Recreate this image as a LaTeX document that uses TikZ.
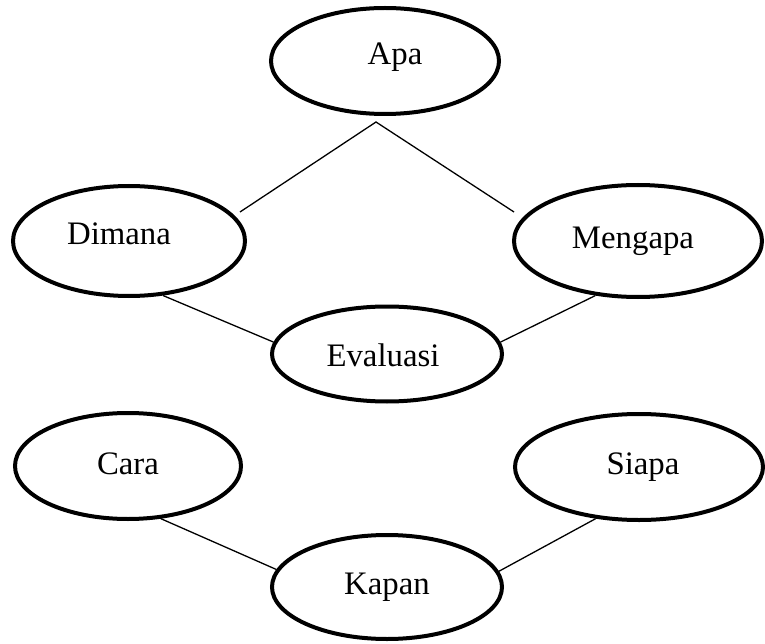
\documentclass[tikz,border=0pt]{standalone}
\usepackage{fontspec}
\setmainfont{Liberation Serif}
\usetikzlibrary{shapes.geometric}
\begin{document}
\begin{tikzpicture}[x=1pt,y=-1pt,
  bubble/.style={ellipse,draw=black,line width=4pt,inner sep=0pt,fill=white},
  word/.style={anchor=base,inner sep=0pt,font=\fontsize{32.8}{38}\selectfont},
  link/.style={draw=black,line width=1.3pt}]
\useasboundingbox (0,0) rectangle (765,644);

% ellipses
\node[bubble,minimum width=228,minimum height=106] (apa) at (385,61) {};
\node[bubble,minimum width=232,minimum height=110] (dimana) at (129,241) {};
\node[bubble,minimum width=248,minimum height=112] (mengapa) at (638,241) {};
\node[bubble,minimum width=230,minimum height=95] (evaluasi) at (387,354) {};
\node[bubble,minimum width=226,minimum height=106] (cara) at (128,466) {};
\node[bubble,minimum width=248,minimum height=106] (siapa) at (639,467) {};
\node[bubble,minimum width=230,minimum height=104] (kapan) at (387,587) {};

% labels
\node[word] (tapa) at (395,65) {Apa};
\node[word] (tdimana) at (119,245) {Dimana};
\node[word] (tmengapa) at (633,249) {Mengapa};
\node[word] (tevaluasi) at (383,366) {Evaluasi};
\node[word] (tcara) at (128,474) {Cara};
\node[word] (tsiapa) at (643,474) {Siapa};
\node[word] (tkapan) at (387,594) {Kapan};

% free ends of the branch under Apa
\coordinate (apex) at (376,122);
\coordinate (armL) at (240,212);
\coordinate (armR) at (514,212);

% connectors
\draw[link] (armL) -- (apex) -- (armR);
\draw[link] (dimana.-58.6) -- (evaluasi.174);
\draw[link] (mengapa.-128.5) -- (evaluasi.6);
\draw[link] (cara.-58.7) -- (kapan.171.7);
\draw[link] (siapa.-130) -- (kapan.8.7);
\end{tikzpicture}
\end{document}
